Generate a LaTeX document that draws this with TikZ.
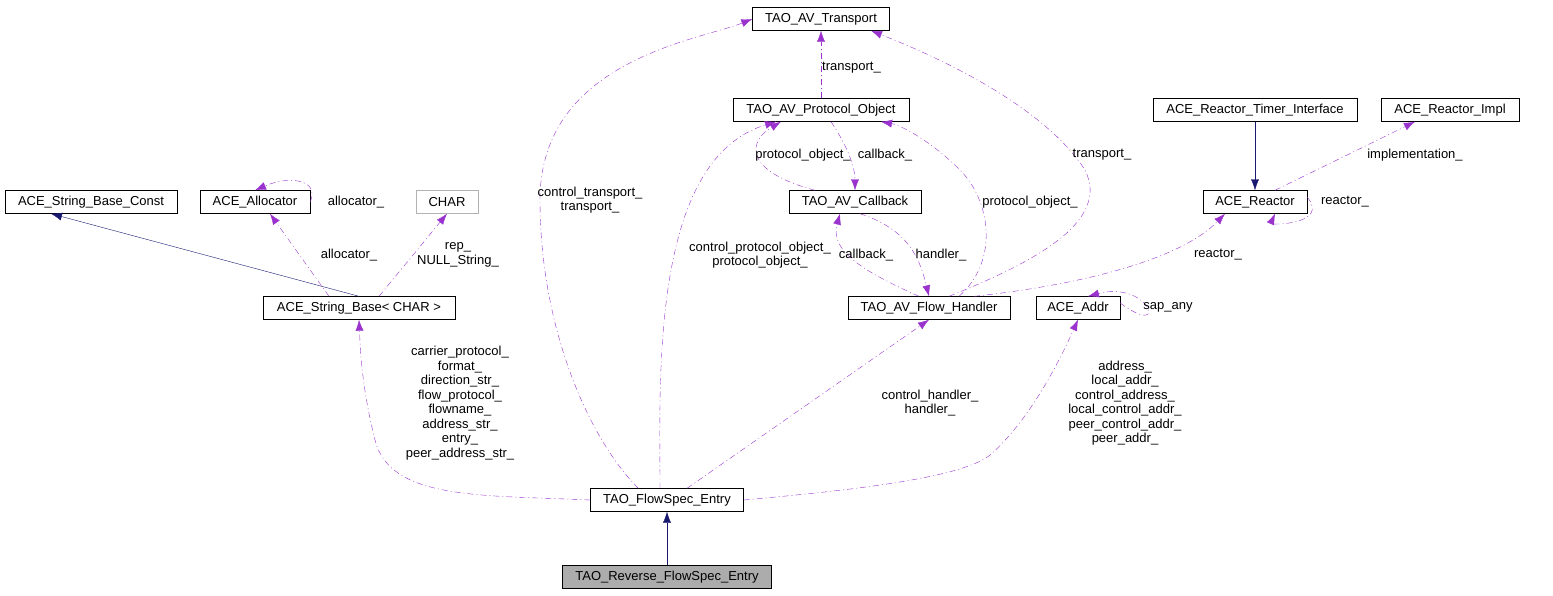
\documentclass[tikz,border=0pt]{standalone}
\usepackage{fontspec}
\setmainfont{Liberation Sans}
\usetikzlibrary{arrows.meta}
\definecolor{pur}{HTML}{9A32CD}
\definecolor{nav}{HTML}{191970}
\begin{document}
\begin{tikzpicture}[x=1pt,y=-1pt,
  box/.style={draw=black,fill=white,minimum height=23pt,inner sep=0pt,font=\fontsize{13}{14}\selectfont},
  use/.style={draw=pur,dash pattern=on 6pt off 3pt on 1pt off 3pt,-{Latex[length=11pt,width=8pt,fill=pur]}},
  inh/.style={draw=nav,-{Latex[length=11pt,width=8pt,fill=nav]}},
  lab/.style={font=\fontsize{13}{14.5}\selectfont,align=center,inner sep=1pt}]
\useasboundingbox (0,0) rectangle (1553,595);
\node[box,minimum width=137pt] (tr) at (821,19) {TAO\_AV\_Transport};
\node[box,minimum width=176pt] (po) at (821,110) {TAO\_AV\_Protocol\_Object};
\node[box,minimum width=204pt] (rti) at (1255,110) {ACE\_Reactor\_Timer\_Interface};
\node[box,minimum width=138pt] (ri) at (1450,110) {ACE\_Reactor\_Impl};
\node[box,minimum width=172pt] (sbc) at (91,202) {ACE\_String\_Base\_Const};
\node[box,minimum width=110pt] (al) at (255,202) {ACE\_Allocator};
\node[box,minimum width=62pt,draw=gray!60] (ch) at (447,202) {CHAR};
\node[box,minimum width=132pt] (cb) at (855,202) {TAO\_AV\_Callback};
\node[box,minimum width=104pt] (re) at (1255,202) {ACE\_Reactor};
\node[box,minimum width=192pt] (sb) at (359,308) {ACE\_String\_Base< CHAR >};
\node[box,minimum width=162pt] (fh) at (929,308) {TAO\_AV\_Flow\_Handler};
\node[box,minimum width=84pt] (ad) at (1078,308) {ACE\_Addr};
\node[box,minimum width=153pt] (fs) at (667,500) {TAO\_FlowSpec\_Entry};
\node[box,minimum width=209pt,fill=gray!65] (rfs) at (667,577) {TAO\_Reverse\_FlowSpec\_Entry};

\draw[inh] (sb.north) -- ([xshift=-40pt]sbc.south);
\draw[inh] (rti) -- (re);
\draw[inh] (rfs) -- (fs);

\draw[use] (po) -- node[lab,right,pos=0.45]{transport\_} (tr);
\draw[use] (fs.north west) ++(48,0) .. controls (590,440) and (540,330) .. (540,200) .. controls (540,60) and (700,40) .. (tr.west);
\node[lab] at (590,200) {control\_transport\_\\transport\_};
\draw[use] ([xshift=20pt]fh.north) .. controls (1040,260) and (1110,220) .. (1085,170) .. controls (1040,100) and (920,50) .. ([xshift=50pt]tr.south);
\node[lab] at (1102,155) {transport\_};
\draw[use] ([xshift=-40pt]cb.north) .. controls (740,170) and (750,140) .. ([xshift=-40pt]po.south);
\node[lab] at (803,155) {protocol\_object\_};
\draw[use] ([xshift=10pt]po.south) .. controls (850,150) and (855,170) .. (cb.north);
\node[lab] at (885,155) {callback\_};
\draw[use] ([xshift=-7pt]fs.north) .. controls (660,380) and (650,160) .. ([xshift=-45pt]po.south);
\node[lab] at (760,255) {control\_protocol\_object\_\\protocol\_object\_};
\draw[use] ([xshift=30pt]fh.north) .. controls (1000,260) and (990,200) .. (960,170) .. controls (930,140) and (900,125) .. ([xshift=60pt]po.south);
\node[lab] at (1030,202) {protocol\_object\_};
\draw[use] ([xshift=-10pt]fh.north) .. controls (860,270) and (830,250) .. ([xshift=-15pt]cb.south);
\node[lab] at (866,255) {callback\_};
\draw[use] ([xshift=5pt]cb.south) .. controls (910,230) and (920,260) .. (fh.north);
\node[lab] at (941,255) {handler\_};
\draw[use] (al.east) .. controls (320,180) and (290,175) .. (al.north);
\node[lab] at (356,202) {allocator\_};
\draw[use] ([xshift=-30pt]sb.north) -- ([xshift=15pt]al.south);
\node[lab] at (349,255) {allocator\_};
\draw[use] ([xshift=20pt]sb.north) -- (ch.south);
\node[lab] at (458,255) {rep\_\\NULL\_String\_};
\draw[use] ([xshift=20pt]re.north) -- ([xshift=-35pt]ri.south);
\node[lab] at (1415,155) {implementation\_};
\draw[use] ([yshift=5pt]re.east) .. controls (1330,225) and (1270,225) .. ([xshift=20pt]re.south);
\node[lab] at (1345,202) {reactor\_};
\draw[use] ([xshift=45pt]fh.north) .. controls (1080,285) and (1180,260) .. ([xshift=-30pt]re.south);
\node[lab] at (1218,255) {reactor\_};
\draw[use] ([yshift=5pt]ad.east) .. controls (1170,340) and (1150,280) .. ([xshift=10pt]ad.north);
\node[lab] at (1168,307) {sap\_any};
\draw[use] (fs.west) .. controls (480,495) and (390,500) .. (375,440) .. controls (360,380) and (360,340) .. (sb.south);
\node[lab] at (460,403) {carrier\_protocol\_\\format\_\\direction\_str\_\\flow\_protocol\_\\flowname\_\\address\_str\_\\entry\_\\peer\_address\_str\_};
\draw[use] ([xshift=20pt]fs.north) -- (fh.south);
\node[lab] at (930,403) {control\_handler\_\\handler\_};
\draw[use] (fs.east) .. controls (830,492) and (960,480) .. (990,455) .. controls (1030,420) and (1060,360) .. (ad.south);
\node[lab] at (1125,403) {address\_\\local\_addr\_\\control\_address\_\\local\_control\_addr\_\\peer\_control\_addr\_\\peer\_addr\_};
\end{tikzpicture}
\end{document}
